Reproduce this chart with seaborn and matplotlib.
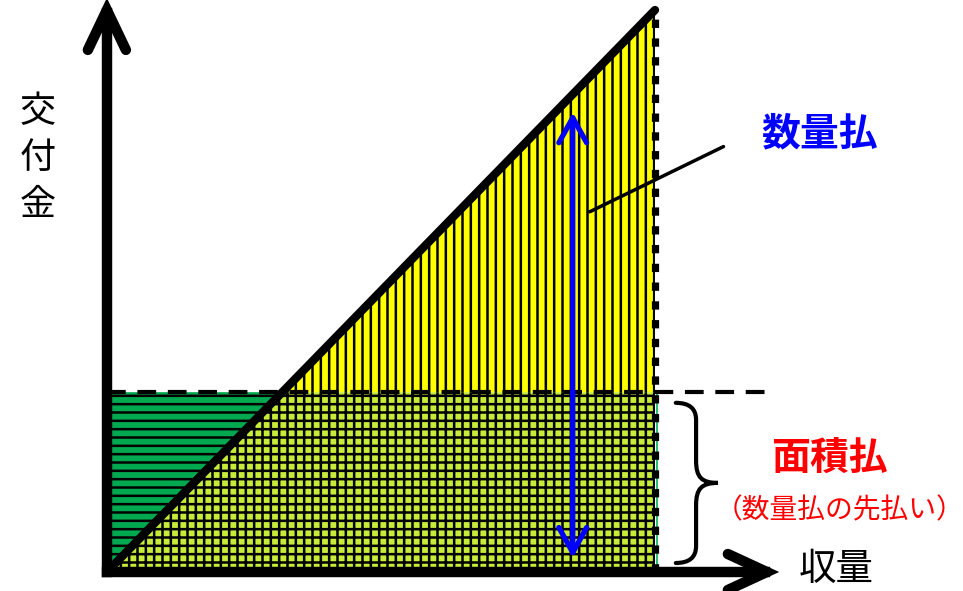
import numpy as np
import matplotlib
matplotlib.use('Agg')
import matplotlib.pyplot as plt
import seaborn as sns
from matplotlib.path import Path
from matplotlib.patches import PathPatch

sns.set_theme(style='white')
plt.rcParams['font.family'] = ['Noto Sans CJK JP', 'DejaVu Sans']
plt.rcParams['hatch.linewidth'] = 1.8

# ---- data (normalized concept diagram) ----
yield_pts = [0.0, 1.0]        # 収量
quantity_pay = [0.0, 1.0]     # 数量払 交付金
area_pay = 0.32               # 面積払 level
max_yield = 1.0
arrow_x = 0.85
arrow_span = [0.025, 0.818]
x_label = '収量'
y_label = ['交', '付', '金']
label_quantity = '数量払'
label_area = '面積払'
label_area_note = '（数量払の先払い）'

fig = plt.figure(figsize=(9.63, 5.91), dpi=100)
ax = fig.add_axes([0, 0, 1, 1])
ax.set_xlim(-0.195, 1.562)
ax.set_ylim(-0.0338, 1.0178)
ax.axis('off')

xs = np.array([0.0, area_pay, max_yield])
diag = np.interp(xs, yield_pts, quantity_pay)
low = np.minimum(diag, area_pay)

# regions
ax.fill_between(xs, area_pay, np.maximum(diag, area_pay), facecolor='#FFFF00',
                edgecolor='black', hatch='||', linewidth=0, zorder=1)
ax.fill_between(xs, low, area_pay, facecolor='#00A84F',
                edgecolor='black', hatch='--', linewidth=0, zorder=1)
ax.fill_between(xs, 0, low, facecolor='#C6EB38',
                edgecolor='black', hatch='++', linewidth=0, zorder=1)
ax.plot([max_yield + 0.004] * 2, [0, area_pay], color='#00B050', lw=1.2, zorder=2)

# dashed area-payment level
ax.plot([0, 1.2], [area_pay, area_pay], color='black', lw=3,
        linestyle=(0, (4.5, 2.8)), dash_capstyle='butt', zorder=3)
# dotted max yield line
ax.plot([max_yield, max_yield], [0, quantity_pay[-1]], color='black', lw=5.2,
        linestyle=(0, (1.15, 1.45)), dash_capstyle='butt', zorder=3)

# diagonal (数量払)
sns.lineplot(x=yield_pts, y=quantity_pay, color='black', lw=6, ax=ax,
             zorder=4, solid_capstyle='round')

# axes with chevron heads
ax.plot([0, 0], [0, 0.995], color='black', lw=7.5, solid_capstyle='projecting', zorder=5)
ax.plot([0, 1.2], [0, 0], color='black', lw=7.5, solid_capstyle='projecting', zorder=5)
ax.plot([-0.0347, 0, 0.0347], [0.929, 1.0, 0.929], color='black', lw=7.5,
        solid_joinstyle='miter', solid_capstyle='round', zorder=5)
ax.plot([1.133, 1.204, 1.133], [0.032, 0, -0.032], color='black', lw=7.5,
        solid_joinstyle='miter', solid_capstyle='round', zorder=5)

# blue double arrow
ax.annotate('', xy=(arrow_x, arrow_span[1]), xytext=(arrow_x, arrow_span[0]),
            arrowprops=dict(arrowstyle='<->,head_length=1.8,head_width=1.0',
                            mutation_scale=10, color='#0000FF', lw=3.8,
                            shrinkA=0, shrinkB=0, capstyle='round'), zorder=6)

# leader line
ax.plot([0.881, 1.125], [0.641, 0.757], color='black', lw=2.5, zorder=6)

# brace
x0, x1, xt = 1.038, 1.075, 1.115
yt, yb = 0.301, 0.016
ym = (yt + yb) / 2
codes = [Path.MOVETO, Path.CURVE3, Path.CURVE3, Path.LINETO,
         Path.CURVE4, Path.CURVE4, Path.CURVE4,
         Path.CURVE4, Path.CURVE4, Path.CURVE4, Path.LINETO,
         Path.CURVE3, Path.CURVE3]
verts = [(x0, yt), (x1, yt), (x1, yt - 0.03), (x1, ym + 0.04),
         (x1, ym + 0.01), (x1 + 0.01, ym), (xt, ym),
         (x1 + 0.01, ym), (x1, ym - 0.01), (x1, ym - 0.04), (x1, yb + 0.03),
         (x1, yb), (x0, yb)]
ax.add_patch(PathPatch(Path(verts, codes), facecolor='none', edgecolor='black',
                       lw=3, zorder=6, capstyle='round'))

# texts
ax.text(1.300, 0.779, label_quantity, color='#0000FF', fontsize=28,
        fontweight='bold', ha='center', va='center')
ax.text(1.319, 0.203, label_area, color='#FF0000', fontsize=28,
        fontweight='bold', ha='center', va='center')
ax.text(1.337, 0.110, label_area_note, color='#FF0000', fontsize=20,
        ha='center', va='center')
for ch, yy in zip(y_label, [0.819, 0.737, 0.653]):
    ax.text(-0.126, yy, ch, fontsize=26, ha='center', va='center', color='black')
ax.text(1.330, 0.004, x_label, fontsize=27, ha='center', va='center', color='black')

fig.savefig('out.png', dpi=100)
